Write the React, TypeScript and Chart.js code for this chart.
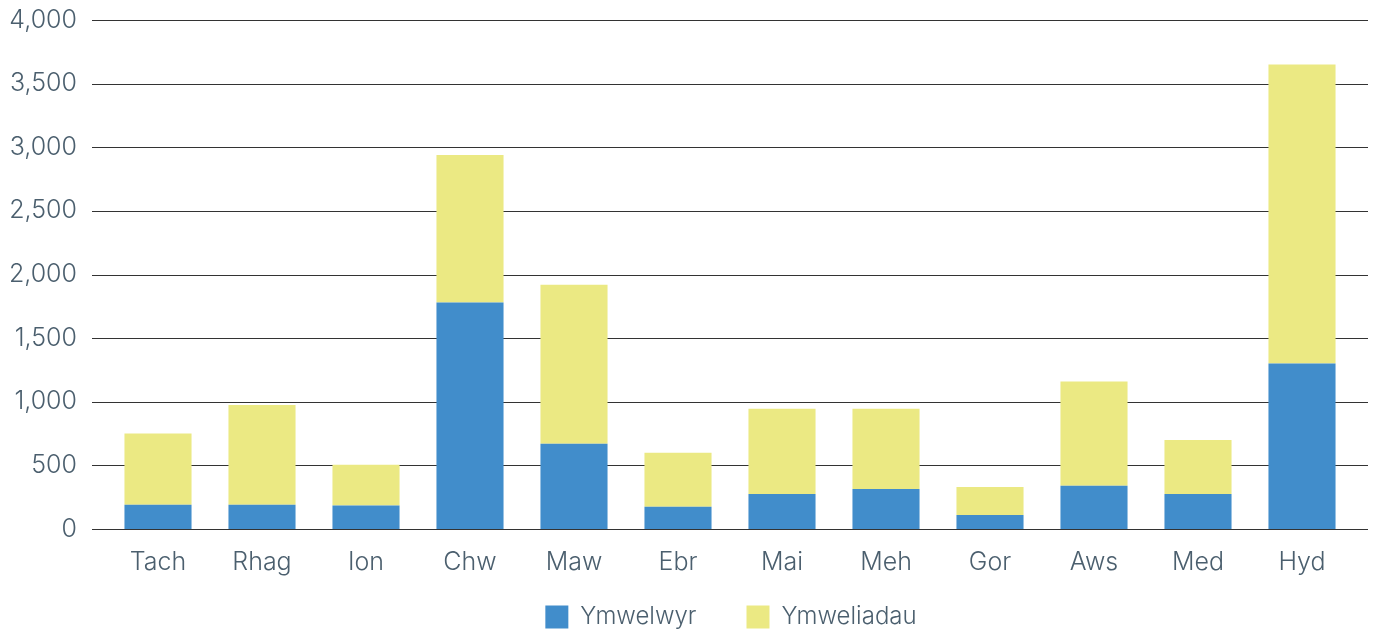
import React, { useEffect, useRef } from "react";
import { Chart, registerables } from "chart.js";

Chart.register(...registerables);

const months = ["Tach", "Rhag", "Ion", "Chw", "Maw", "Ebr", "Mai", "Meh", "Gor", "Aws", "Med", "Hyd"];
const totals = [750, 975, 505, 2940, 1920, 600, 945, 945, 330, 1160, 700, 3650];
const ymwelwyr = [190, 190, 185, 1780, 670, 175, 275, 315, 110, 340, 275, 1300];
const ymweliadau = totals.map((t, i) => t - ymwelwyr[i]);
const seriesLabels = ["Ymwelwyr", "Ymweliadau"];
const yTicks = [0, 500, 1000, 1500, 2000, 2500, 3000, 3500, 4000];

const textColor = "#4b5f6e";
const gridColor = "#333333";
const fontFamily = "Inter, 'Open Sans', sans-serif";
const font = { family: fontFamily, size: 25, weight: "300" as any };
const legendFont = { family: fontFamily, size: 24, weight: "300" as any };

const gridPlugin = {
  id: "extGrid",
  beforeDatasetsDraw(chart: any) {
    const { ctx, chartArea } = chart;
    const y = chart.scales.y;
    ctx.save();
    ctx.strokeStyle = gridColor;
    ctx.lineWidth = 1;
    yTicks.forEach((v) => {
      const py = Math.round(y.getPixelForValue(v)) + 0.5;
      ctx.beginPath();
      ctx.moveTo(chartArea.left - 14, py);
      ctx.lineTo(chartArea.right + 14, py);
      ctx.stroke();
    });
    ctx.restore();
  },
};

const legendShift = {
  id: "legendShift",
  afterLayout(chart: any) {
    const lg = chart.legend;
    if (lg) {
      lg.top = 555;
      lg.left += 54;
      lg.right += 54;
    }
  },
};

export default function App() {
  const ref = useRef<HTMLCanvasElement>(null);
  useEffect(() => {
    document.body.style.margin = "0";
    const chart = new Chart(ref.current!, {
      type: "bar",
      data: {
        labels: months,
        datasets: [
          { label: seriesLabels[0], data: ymwelwyr, backgroundColor: "#418dcb", borderWidth: 0 },
          { label: seriesLabels[1], data: ymweliadau, backgroundColor: "#ebe983", borderWidth: 0 },
        ],
      },
      options: {
        responsive: false,
        animation: false,
        categoryPercentage: 1,
        barPercentage: 0.645,
        layout: { padding: { top: 20, right: 21, left: 0, bottom: 0 } },
        plugins: {
          tooltip: { enabled: false },
          legend: {
            position: "bottom",
            maxHeight: 46,
            labels: {
              boxWidth: 23,
              boxHeight: 23,
              padding: 50,
              color: textColor,
              font: legendFont,
            },
          },
        },
        scales: {
          x: {
            stacked: true,
            grid: { display: false, drawTicks: false },
            border: { display: false },
            ticks: { color: textColor, padding: 18, font },
            afterFit: (s: any) => { s.height = 54; },
          },
          y: {
            stacked: true,
            min: 0,
            max: 4000,
            grid: { display: false, drawTicks: true, tickLength: 29 },
            border: { display: false },
            afterBuildTicks: (s: any) => { s.ticks = yTicks.map((v) => ({ value: v })); },
            afterFit: (s: any) => { s.width = 106; },
            ticks: {
              color: textColor,
              padding: 0,
              font,
              callback: (v: any) => Number(v).toLocaleString("en-US"),
            },
          },
        },
      },
      plugins: [gridPlugin, legendShift],
    });
    return () => chart.destroy();
  }, []);
  return <canvas ref={ref} width={1375} height={629} style={{ display: "block" }} />;
}
